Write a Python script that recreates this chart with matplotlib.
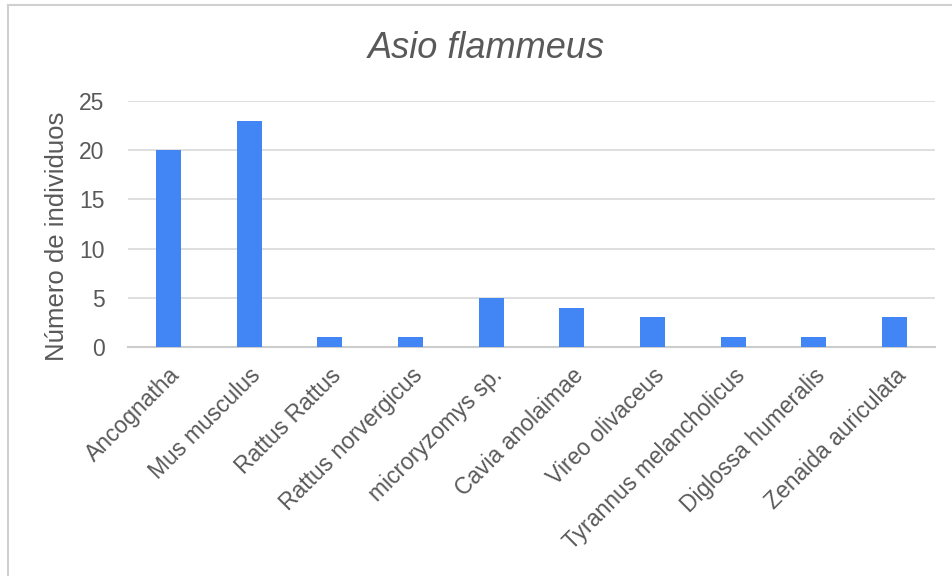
import matplotlib
matplotlib.use("Agg")
import matplotlib.pyplot as plt
from matplotlib.lines import Line2D

categories = ["Ancognatha", "Mus musculus", "Rattus Rattus", "Rattus norvergicus",
              "microryzomys sp.", "Cavia anolaimae", "Vireo olivaceus",
              "Tyrannus melancholicus", "Diglossa humeralis", "Zenaida auriculata"]
values = [20, 23, 1, 1, 5, 4, 3, 1, 1, 3]
yticks = [0, 5, 10, 15, 20, 25]

plt.rcParams['font.family'] = ['Liberation Sans', 'DejaVu Sans']
txt = '#595959'

fig = plt.figure(figsize=(9.52, 5.76), dpi=100)
ax = fig.add_axes([128/952, 1-347/576, (935-128)/952, (347-101)/576])
x = list(range(len(categories)))
ax.bar(x, values, width=0.31, color='#4285F4', zorder=3)
ax.set_xlim(-0.5, len(categories)-0.5)
ax.set_ylim(0, 25)
ax.set_yticks(yticks)
ax.set_yticklabels([str(t) for t in yticks], fontsize=16.5, color=txt)
ax.set_xticks(x)
ax.set_xticklabels(categories, rotation=45, ha='right', rotation_mode='anchor',
                   fontsize=16.5, color=txt)
ax.tick_params(axis='y', length=0, pad=17)
ax.tick_params(axis='x', length=0, pad=12)
ax.yaxis.grid(True, color='#d9d9d9', linewidth=1.2, zorder=0)
for s in ['top', 'right', 'left']:
    ax.spines[s].set_visible(False)
ax.spines['bottom'].set_color('#cccccc')
ax.spines['bottom'].set_linewidth(1.5)
ax.set_ylabel('Número de individuos', fontsize=18.5, color=txt)
ax.yaxis.set_label_coords(-0.073, 0.449)
fig.text(486/952, 1-48/576, 'Asio flammeus', fontsize=26, style='italic',
         color=txt, ha='center', va='center')

fig.add_artist(Line2D([8/952, 8/952], [0, 1-5/576], color='#d0d0d0', lw=1.5,
                      transform=fig.transFigure))
fig.add_artist(Line2D([8/952, 1], [1-5/576, 1-5/576], color='#d0d0d0', lw=1.5,
                      transform=fig.transFigure))

fig.savefig('out.png', dpi=100)
